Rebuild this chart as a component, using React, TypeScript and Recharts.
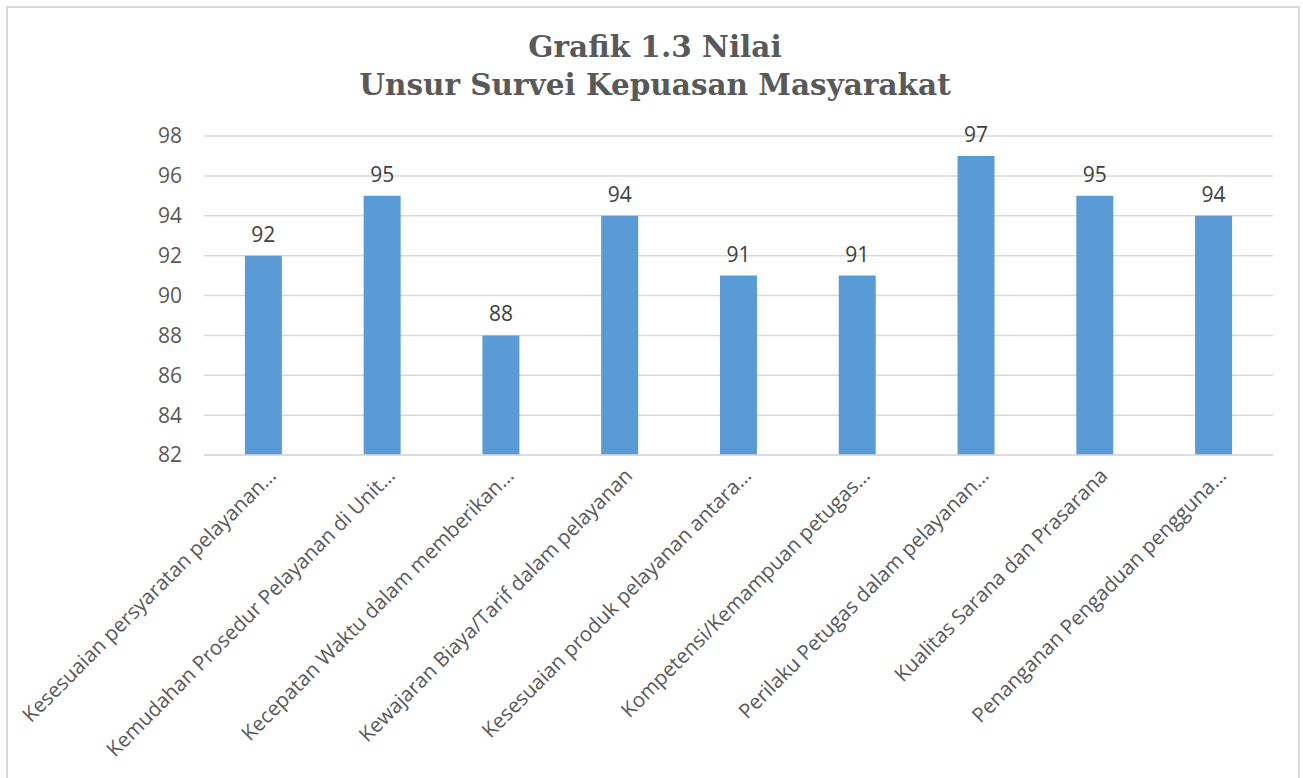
import { BarChart, Bar, XAxis, YAxis, CartesianGrid, LabelList } from 'recharts';

const categories = [
    'Kesesuaian persyaratan pelayanan…',
    'Kemudahan Prosedur Pelayanan di Unit…',
    'Kecepatan Waktu dalam memberikan…',
    'Kewajaran Biaya/Tarif dalam pelayanan',
    'Kesesuaian produk pelayanan antara…',
    'Kompetensi/Kemampuan petugas…',
    'Perilaku Petugas dalam pelayanan…',
    'Kualitas Sarana dan Prasarana',
    'Penanganan Pengaduan pengguna…',
];
const nilai = [92, 95, 88, 94, 91, 91, 97, 95, 94];
const yTicks = [82, 84, 86, 88, 90, 92, 94, 96, 98];

const data = categories.map((name, i) => ({ name, nilai: nilai[i] }));

const textColor = '#595959';
const font = '"Open Sans", "Noto Sans", sans-serif';

const AngledTick = ({ x, y, payload }: { x?: number; y?: number; payload?: { value: string } }) => {
    const tx = (x ?? 0) + 14;
    const ty = (y ?? 0) + 14;
    return (
        <text
            x={tx}
            y={ty}
            transform={`rotate(-45, ${tx}, ${ty})`}
            textAnchor="end"
            fill={textColor}
            fontFamily={font}
            fontSize={20.5}
        >
            {payload?.value}
        </text>
    )
}

export default function App() {
    return (
        <div style={{ position: 'absolute', left: 0, top: 0, width: 1303, height: 778, overflow: 'hidden', background: '#fff' }}>
            {/* frame */}
            <div
                style={{
                    position: 'absolute',
                    left: 6,
                    top: 6,
                    width: 1294,
                    height: 800,
                    border: '2px solid #d9d9d9',
                    boxSizing: 'border-box',
                }}
            />

            {/* title */}
            <div
                style={{
                    position: 'absolute',
                    left: 0,
                    top: 28,
                    width: 1310,
                    textAlign: 'center',
                    fontFamily: '"DejaVu Serif", serif',
                    fontWeight: 'bold',
                    fontSize: 29.5,
                    lineHeight: '38px',
                    color: textColor,
                }}
            >
                Grafik 1.3 Nilai
                <br />
                Unsur Survei Kepuasan Masyarakat
            </div>

            <div style={{ position: 'absolute', left: 0, top: 0 }}>
                <BarChart
                    width={1303}
                    height={778}
                    data={data}
                    margin={{ top: 136, right: 30, left: 144, bottom: 23 }}
                    barCategoryGap="34.4%"
                >
                    <CartesianGrid stroke="#d9d9d9" strokeWidth={1.5} vertical={false} />
                    <XAxis
                        dataKey="name"
                        interval={0}
                        height={300}
                        tick={<AngledTick />}
                        tickLine={false}
                        axisLine={{ stroke: '#d9d9d9', strokeWidth: 1.5 }}
                    />
                    <YAxis
                        width={60}
                        domain={[82, 98]}
                        ticks={yTicks}
                        allowDataOverflow
                        tickLine={false}
                        axisLine={false}
                        tickSize={0}
                        tickMargin={22}
                        tick={{ fill: textColor, fontFamily: font, fontSize: 21 }}
                    />
                    <Bar dataKey="nilai" fill="#5b9bd5" isAnimationActive={false}>
                        <LabelList
                            dataKey="nilai"
                            position="top"
                            offset={14}
                            fill="#404040"
                            fontFamily={font}
                            fontSize={21}
                        />
                    </Bar>
                </BarChart>
            </div>
        </div>
    )
}
